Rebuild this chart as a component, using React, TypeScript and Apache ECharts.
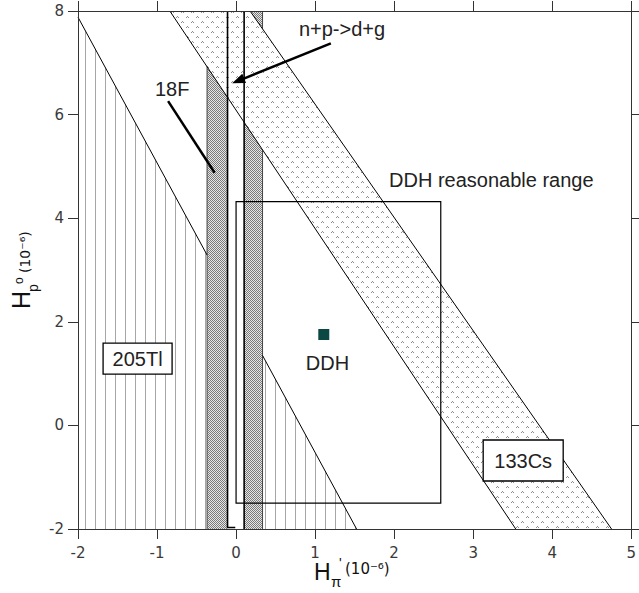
import React, { useEffect, useRef } from "react";
import * as echarts from "echarts";

// ---- axes ----
const xMin = -2, xMax = 5, xStep = 1;
const yMin = -2, yMax = 8, yStep = 2;

// ---- 205Tl excluded regions (data units) ----
const tlLeftRegion = [[-2, 7.88], [-0.367, 3.29], [-0.367, -2], [-2, -2]];
const tlRightRegion = [[0.335, 1.35], [1.525, -2], [0.335, -2]];
const tlLeftEdge = [[-2, 7.88], [-0.367, 3.29]];
const tlRightEdge = [[0.335, 1.35], [1.525, -2]];

// ---- 18F bands ----
const f18Left = [[-0.367, -2], [-0.108, -2], [-0.108, 8], [-0.367, 8]];
const f18Right = [[0.102, -2], [0.335, -2], [0.335, 8], [0.102, 8]];
const f18OuterEdges = [[[-0.367, -2], [-0.367, 8]], [[0.335, -2], [0.335, 8]]];

// ---- 133Cs band ----
const csBand = [[-0.838, 8], [0.177, 8], [4.751, -2], [3.539, -2]];
const csLowerEdge = [[-0.838, 8], [3.539, -2]];
const csUpperEdge = [[0.177, 8], [4.751, -2]];

// ---- n+p -> d+g ----
const npLeftEdge = [[-0.108, 8], [-0.108, -1.97], [-0.01, -1.97]];
const npRightEdge = [[0.102, 8], [0.102, -2]];

// ---- DDH ----
const ddhRange = [[0, -1.5], [2.59, 4.32]];
const ddhPoint = [[1.11, 1.755]];

// ---- annotations ----
const plainLabels = [
  { text: "n+p->d+g", at: [0.795, 7.65] },
  { text: "18F", at: [-1.026, 6.49] },
  { text: "DDH reasonable range", at: [1.935, 4.74] },
  { text: "DDH", at: [0.882, 1.205] },
];
const boxedLabels = [
  { text: "205Tl", at: [-1.246, 1.29], w: 69, h: 31 },
  { text: "133Cs", at: [3.633, -0.678], w: 80, h: 41 },
];
const npArrow = [[1.199, 7.376], [-0.05, 6.604]];
const f18Pointer = [[-0.86, 6.26], [-0.271, 4.877]];

const LABEL_FONT = 'normal 20px "Liberation Sans", Arial, sans-serif';

function makePattern(w: number, h: number, paint: (ctx: CanvasRenderingContext2D) => void) {
  const c = document.createElement("canvas");
  c.width = w;
  c.height = h;
  const ctx = c.getContext("2d") as CanvasRenderingContext2D;
  paint(ctx);
  return { image: c, repeat: "repeat", imageWidth: w, imageHeight: h };
}

export default function App() {
  const ref = useRef<HTMLDivElement>(null);

  useEffect(() => {
    if (!ref.current) return;
    const chart = echarts.init(ref.current, null, { renderer: "svg" });

    const hatch = makePattern(10, 10, (ctx) => {
      ctx.fillStyle = "#fff";
      ctx.fillRect(0, 0, 10, 10);
      ctx.fillStyle = "#a6a6a6";
      ctx.fillRect(5, 0, 1, 10);
    });
    const checker = makePattern(2, 2, (ctx) => {
      ctx.fillStyle = "#e6e6e6";
      ctx.fillRect(0, 0, 2, 2);
      ctx.fillStyle = "#7a7a7a";
      ctx.fillRect(0, 0, 1, 1);
      ctx.fillRect(1, 1, 1, 1);
    });
    const carets = makePattern(10, 10, (ctx) => {
      ctx.fillStyle = "#fff";
      ctx.fillRect(0, 0, 10, 10);
      ctx.fillStyle = "#8e8e8e";
      const caret = (x: number, y: number) => {
        ctx.fillRect(x + 1, y, 1, 1);
        ctx.fillRect(x, y + 1, 1, 1);
        ctx.fillRect(x + 2, y + 1, 1, 1);
      };
      caret(1, 1);
      caret(6, 6);
    });

    const polySeries = (polys: number[][][], style: any, z: number) => ({
      type: "custom",
      silent: true,
      z,
      data: polys.map((_, i) => [i]),
      renderItem: (params: any, api: any) => ({
        type: "polygon",
        shape: { points: polys[params.dataIndex].map((p) => api.coord(p)) },
        style,
      }),
    });

    const lineSeries = (lines: number[][][], style: any, z: number) => ({
      type: "custom",
      silent: true,
      z,
      data: lines.map((_, i) => [i]),
      renderItem: (params: any, api: any) => ({
        type: "polyline",
        shape: { points: lines[params.dataIndex].map((p) => api.coord(p)) },
        style: { fill: "none", ...style },
      }),
    });

    const rectSeries = {
      type: "custom",
      silent: true,
      z: 6,
      data: [[0]],
      renderItem: (_: any, api: any) => {
        const a = api.coord(ddhRange[0]);
        const b = api.coord(ddhRange[1]);
        return {
          type: "rect",
          shape: {
            x: Math.min(a[0], b[0]),
            y: Math.min(a[1], b[1]),
            width: Math.abs(b[0] - a[0]),
            height: Math.abs(b[1] - a[1]),
          },
          style: { fill: "none", stroke: "#000", lineWidth: 1.2 },
        };
      },
    };

    const annotationSeries = {
      type: "custom",
      silent: true,
      z: 7,
      data: [[0]],
      renderItem: (_: any, api: any) => {
        const children: any[] = [];
        const t = api.coord(npArrow[0]);
        const h = api.coord(npArrow[1]);
        const dx = h[0] - t[0];
        const dy = h[1] - t[1];
        const len = Math.hypot(dx, dy);
        const ux = dx / len;
        const uy = dy / len;
        const L = 13;
        const W = 5;
        const bx = h[0] - ux * L;
        const by = h[1] - uy * L;
        children.push({
          type: "line",
          shape: { x1: t[0], y1: t[1], x2: bx + ux * 3, y2: by + uy * 3 },
          style: { stroke: "#000", lineWidth: 2.5 },
        });
        children.push({
          type: "polygon",
          shape: { points: [h, [bx - uy * W, by + ux * W], [bx + uy * W, by - ux * W]] },
          style: { fill: "#000" },
        });
        const p1 = api.coord(f18Pointer[0]);
        const p2 = api.coord(f18Pointer[1]);
        children.push({
          type: "line",
          shape: { x1: p1[0], y1: p1[1], x2: p2[0], y2: p2[1] },
          style: { stroke: "#000", lineWidth: 2.5 },
        });
        plainLabels.forEach((l) => {
          const p = api.coord(l.at);
          children.push({
            type: "text",
            x: p[0],
            y: p[1],
            style: {
              text: l.text,
              font: LABEL_FONT,
              fill: "#222",
              align: "left",
              verticalAlign: "middle",
            },
          });
        });
        boxedLabels.forEach((l) => {
          const p = api.coord(l.at);
          children.push({
            type: "rect",
            shape: { x: p[0] - l.w / 2, y: p[1] - l.h / 2, width: l.w, height: l.h },
            style: { fill: "#fff", stroke: "#000", lineWidth: 1.3 },
          });
          children.push({
            type: "text",
            x: p[0],
            y: p[1],
            style: {
              text: l.text,
              font: LABEL_FONT,
              fill: "#222",
              align: "center",
              verticalAlign: "middle",
            },
          });
        });
        return { type: "group", children };
      },
    };

    const axisCommon = {
      type: "value",
      z: 10,
      axisLine: { show: true, onZero: false, lineStyle: { color: "#333", width: 1 } },
      axisTick: { show: true, inside: false, length: 10, lineStyle: { color: "#333", width: 1 } },
      splitLine: { show: false },
    };
    const tickFont = { fontSize: 15, fontFamily: "DejaVu Sans", color: "#3a3a3a" };

    const txt = (text: string, x: number, y: number, font: string) => ({
      type: "text",
      x,
      y,
      style: { text, font, fill: "#111", align: "left", verticalAlign: "middle", textAlign: "left", textVerticalAlign: "middle" },
    });

    const option: any = {
      animation: false,
      backgroundColor: "#fff",
      grid: { left: 78, right: 2, top: 11, bottom: 64, containLabel: false },
      xAxis: [
        {
          ...axisCommon,
          min: xMin,
          max: xMax,
          interval: xStep,
          position: "bottom",
          axisLabel: { show: true, margin: 16, ...tickFont },
        },
        {
          ...axisCommon,
          min: xMin,
          max: xMax,
          interval: xStep,
          position: "top",
          axisLabel: { show: false },
        },
      ],
      yAxis: [
        {
          ...axisCommon,
          min: yMin,
          max: yMax,
          interval: yStep,
          position: "left",
          axisLabel: { show: true, margin: 14, ...tickFont },
        },
        {
          ...axisCommon,
          min: yMin,
          max: yMax,
          interval: yStep,
          position: "right",
          axisLabel: { show: false },
        },
      ],
      graphic: [
        {
          type: "group",
          x: 0,
          y: 0,
          children: [
            txt("H", 314, 572, 'normal 23px "Liberation Sans", Arial, sans-serif'),
            txt("π", 331, 581, 'normal 15px "Liberation Sans", Arial, sans-serif'),
            txt("'", 339, 563, 'normal 14px "Liberation Sans", Arial, sans-serif'),
            txt("(10⁻⁶)", 345, 569, 'normal 15px "DejaVu Sans", sans-serif'),
          ],
        },
        {
          type: "group",
          x: 30,
          y: 308,
          rotation: Math.PI / 2,
          children: [
            txt("H", -1, -9, 'normal 25px "Liberation Sans", Arial, sans-serif'),
            txt("p", 16, 3, 'normal 14px "Liberation Sans", Arial, sans-serif'),
            txt("o", 24, -11, 'normal 12px "Liberation Sans", Arial, sans-serif'),
            txt("(10⁻⁶)", 35, -5, 'normal 14px "DejaVu Sans", sans-serif'),
          ],
        },
      ],
      series: [
        polySeries([tlLeftRegion, tlRightRegion], { fill: hatch }, 2),
        polySeries([f18Left, f18Right], { fill: checker }, 3),
        lineSeries(f18OuterEdges, { stroke: "#444", lineWidth: 1 }, 3),
        polySeries([csBand], { fill: carets }, 4),
        lineSeries([tlLeftEdge, tlRightEdge, csLowerEdge, csUpperEdge], { stroke: "#000", lineWidth: 1 }, 5),
        lineSeries([npLeftEdge, npRightEdge], { stroke: "#000", lineWidth: 1.6 }, 6),
        rectSeries,
        annotationSeries,
        {
          type: "scatter",
          z: 8,
          silent: true,
          symbol: "rect",
          symbolSize: 11,
          itemStyle: { color: "#0b4844", opacity: 1 },
          data: ddhPoint,
        },
      ],
    };

    chart.setOption(option);
    return () => chart.dispose();
  }, []);

  return (
    <div
      ref={ref}
      style={{ position: "absolute", left: 0, top: 0, width: 639, height: 593, background: "#fff" }}
    />
  );
}
